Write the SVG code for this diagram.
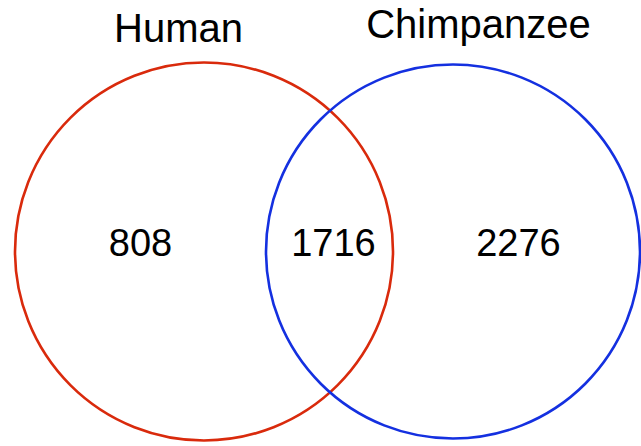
<svg xmlns="http://www.w3.org/2000/svg" width="641" height="446" viewBox="0 0 641 446">
<style>
.lbl{font-family:"Liberation Sans",Arial,sans-serif;font-size:40px;fill:#000;text-anchor:middle}
.num{font-family:"Liberation Sans",Arial,sans-serif;font-size:38px;fill:#000;text-anchor:middle}
.set{fill:none;stroke-width:2.6}
</style>
<rect width="641" height="446" fill="#fff"/>
<g id="connectors"></g>
<g id="human">
<circle class="set" cx="204" cy="251.5" r="189" stroke="#d92a0c"/>
<text class="lbl" x="178.5" y="42">Human</text>
</g>
<g id="chimpanzee">
<circle class="set" cx="453" cy="251.5" r="187" stroke="#1430e0"/>
<text class="lbl" x="478.5" y="38">Chimpanzee</text>
</g>
<g id="counts">
<text class="num" x="140.5" y="256">808</text>
<text class="num" x="333.5" y="256">1716</text>
<text class="num" x="518.5" y="256">2276</text>
</g>
</svg>
